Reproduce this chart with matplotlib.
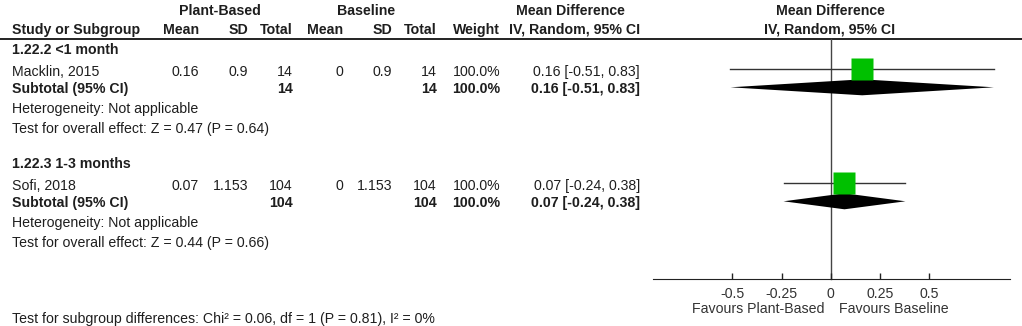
import matplotlib.pyplot as plt

plt.rcParams['font.family'] = ['Liberation Sans', 'DejaVu Sans']

# study level data
subgroups = ["1.22.2 <1 month", "1.22.3 1-3 months"]
studies = ["Macklin, 2015", "Sofi, 2018"]
pb_mean = [0.16, 0.07]
pb_sd = [0.9, 1.153]
pb_n = [14, 104]
bl_mean = [0, 0]
bl_sd = [0.9, 1.153]
bl_n = [14, 104]
weight = [100.0, 100.0]
md = [0.16, 0.07]
ci_lo = [-0.51, -0.24]
ci_hi = [0.83, 0.38]

# subgroup totals
sub_n_pb = [14, 104]
sub_n_bl = [14, 104]
sub_weight = [100.0, 100.0]
sub_md = [0.16, 0.07]
sub_lo = [-0.51, -0.24]
sub_hi = [0.83, 0.38]
z_vals = [0.47, 0.44]
p_vals = [0.64, 0.66]

ticks = [-0.5, -0.25, 0, 0.25, 0.5]
tick_labels = ["-0.5", "-0.25", "0", "0.25", "0.5"]
overall_note = "Test for subgroup differences: Chi\u00b2 = 0.06, df = 1 (P = 0.81), I\u00b2 = 0%"

TXT = '#1e1e1e'
FS = 10.2

fig = plt.figure(figsize=(10.22, 3.26), dpi=100)
ax = fig.add_axes([0, 0, 1, 1])
ax.set_xlim(0, 1022)
ax.set_ylim(326, 0)
ax.axis('off')

def put(x, y, s, ha='left', bold=False, color=TXT):
    ax.text(x, y, s, ha=ha, va='baseline', fontsize=FS, color=color,
            fontweight='bold' if bold else 'normal')

# column right edges
c_pm, c_ps, c_pn = 199, 248, 293
c_bm, c_bs, c_bn = 343, 392, 437
c_w, c_ci = 500, 640

# headers
put(220, 15, "Plant-Based", ha='center', bold=True)
put(366, 15, "Baseline", ha='center', bold=True)
put(570, 15, "Mean Difference", ha='center', bold=True)
put(830, 15, "Mean Difference", ha='center', bold=True)
put(12, 34, "Study or Subgroup", bold=True)
for x, s in [(c_pm, "Mean"), (c_ps, "SD"), (c_pn, "Total"), (c_bm, "Mean"),
             (c_bs, "SD"), (c_bn, "Total"), (c_w, "Weight"),
             (c_ci, "IV, Random, 95% CI")]:
    put(x, 34, s, ha='right', bold=True)
put(830, 34, "IV, Random, 95% CI", ha='center', bold=True)
ax.plot([0, 1022], [39, 39], color='#111111', lw=1.3)

group_top = [54.3, 168.3]
fx = fig.add_axes([653 / 1022, 0, 357 / 1022, 1])
fx.patch.set_alpha(0)
fx.set_xlim(-0.904, 0.912)
fx.set_ylim(326, 0)

for i in range(len(studies)):
    y0 = group_top[i]
    ys, yt, yh, yz = y0 + 21.5, y0 + 38.5, y0 + 59, y0 + 79
    put(12, y0, subgroups[i], bold=True)
    put(12, ys, studies[i])
    put(c_pm, ys, f"{pb_mean[i]:g}", ha='right')
    put(c_ps, ys, f"{pb_sd[i]:g}", ha='right')
    put(c_pn, ys, f"{pb_n[i]}", ha='right')
    put(c_bm, ys, f"{bl_mean[i]:g}", ha='right')
    put(c_bs, ys, f"{bl_sd[i]:g}", ha='right')
    put(c_bn, ys, f"{bl_n[i]}", ha='right')
    put(c_w, ys, f"{weight[i]:.1f}%", ha='right')
    put(c_ci, ys, f"{md[i]:.2f} [{ci_lo[i]:.2f}, {ci_hi[i]:.2f}]", ha='right')
    put(12, yt, "Subtotal (95% CI)", bold=True)
    put(c_pn, yt, f"{sub_n_pb[i]}", ha='right', bold=True)
    put(c_bn, yt, f"{sub_n_bl[i]}", ha='right', bold=True)
    put(c_w, yt, f"{sub_weight[i]:.1f}%", ha='right', bold=True)
    put(c_ci, yt, f"{sub_md[i]:.2f} [{sub_lo[i]:.2f}, {sub_hi[i]:.2f}]",
        ha='right', bold=True)
    put(12, yh, "Heterogeneity: Not applicable")
    put(12, yz, f"Test for overall effect: Z = {z_vals[i]:.2f} (P = {p_vals[i]:.2f})")

    # study estimate with confidence interval
    yl = ys - 7
    fx.plot([ci_lo[i], ci_hi[i]], [yl, yl], color='#333333', lw=1.0)
    fx.plot(md[i], yl, 's', ms=15.5, color='#00c000', mec='none')
    # subtotal diamond
    yd = yt - 5.5
    fx.fill([sub_lo[i], sub_md[i], sub_hi[i], sub_md[i]],
            [yd, yd - 8, yd, yd + 8], color='black', lw=0)

put(12, 322.5, overall_note)

# line of no effect and scale
fx.plot([0, 0], [39, 279], color='#444444', lw=1.0, zorder=0)
for s in ['top', 'right', 'left']:
    fx.spines[s].set_visible(False)
fx.spines['bottom'].set_position(('data', 279))
fx.spines['bottom'].set_color('#222222')
fx.set_yticks([])
fx.set_xticks(ticks)
fx.set_xticklabels(tick_labels)
fx.tick_params(axis='x', direction='in', length=4, width=1, pad=5.5,
               labelsize=FS, labelcolor='#333333', color='#222222')
put(825, 312.7, "Favours Plant-Based", ha='right', color='#333333')
put(839, 312.7, "Favours Baseline", color='#333333')

fig.savefig('out.png', dpi=100)
